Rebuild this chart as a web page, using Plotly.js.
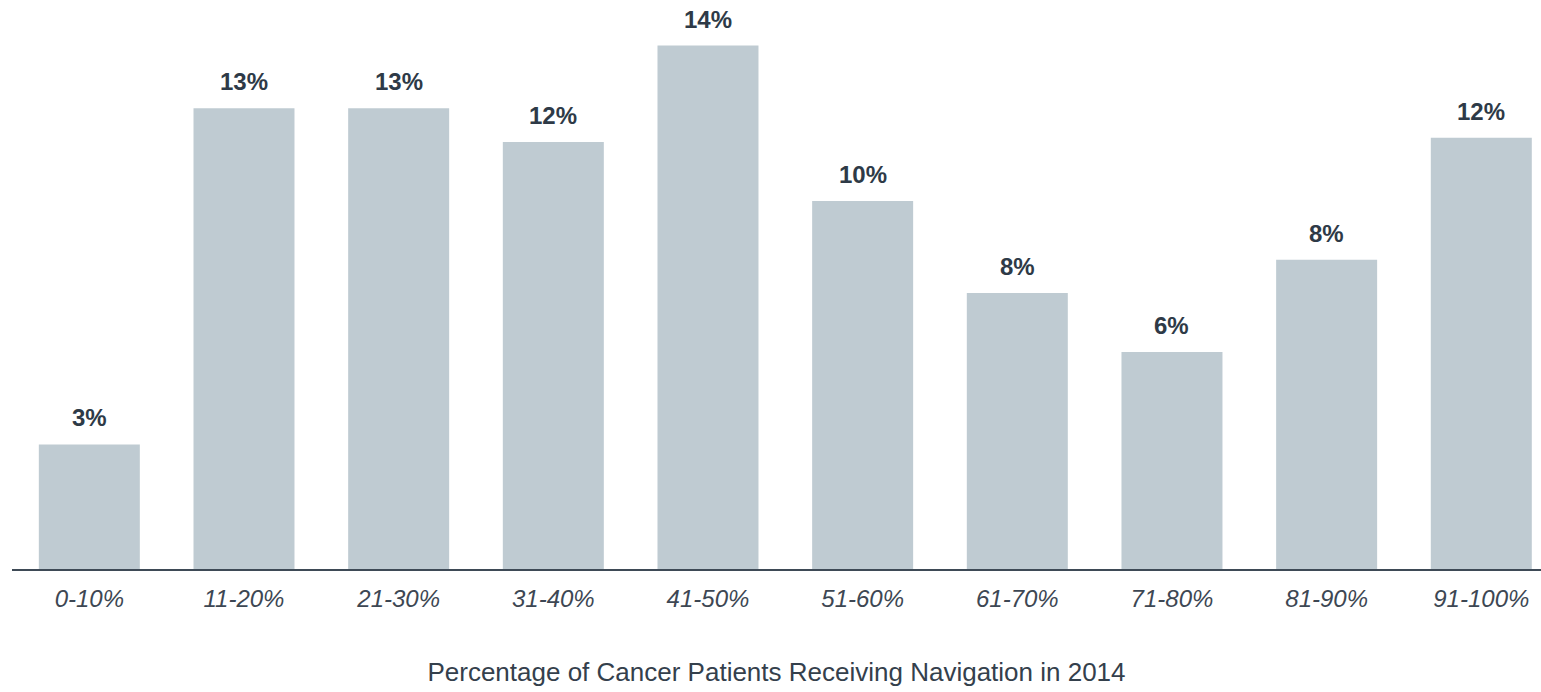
<!DOCTYPE html>
<html>
<head>
<meta charset="utf-8">
<script src="https://cdn.plot.ly/plotly-3.0.1.min.js"></script>
<style>html,body{margin:0;padding:0;background:#fff;}#chart{width:1541px;height:692px;}</style>
</head>
<body>
<div id="chart"></div>
<script>
// Categories (x axis tick labels)
const categories = ["0-10%", "11-20%", "21-30%", "31-40%", "41-50%", "51-60%", "61-70%", "71-80%", "81-90%", "91-100%"];
// Bar heights (percent of programs)
const values = [3.46, 12.80, 12.80, 11.86, 14.54, 10.22, 7.67, 6.03, 8.59, 11.98];
// Printed value labels above bars
const valueLabels = ["3%", "13%", "13%", "12%", "14%", "10%", "8%", "6%", "8%", "12%"];
const xTitle = "Percentage of Cancer Patients Receiving Navigation in 2014";

const FONT = "Liberation Sans, Arial, Helvetica, sans-serif";

const trace = {
  type: "bar",
  x: categories,
  y: values,
  marker: { color: "#bfcbd2", line: { width: 0 } },
  hoverinfo: "x+y"
};

const annotations = categories.map((c, i) => ({
  x: c, y: values[i], xref: "x", yref: "y",
  text: "<b>" + valueLabels[i] + "</b>",
  showarrow: false, yanchor: "bottom", yshift: 11,
  font: { family: FONT, size: 24, color: "#2e3a47" }
}));

const layout = {
  width: 1541, height: 692,
  margin: { l: 12, r: 0, t: 20, b: 123, pad: 0 },
  paper_bgcolor: "#ffffff", plot_bgcolor: "#ffffff",
  bargap: 0.347,
  showlegend: false,
  xaxis: {
    type: "category",
    range: [-0.5, 9.386],
    showline: true, linecolor: "#3e4a56", linewidth: 2,
    showgrid: false, zeroline: false, ticks: "",
    ticklabelstandoff: 7,
    tickfont: { family: FONT, size: 24, color: "#3d4753", style: "italic" },
    title: { text: xTitle, standoff: 52, font: { family: FONT, size: 26, color: "#34404c" } },
    automargin: false, fixedrange: true
  },
  yaxis: {
    range: [0, 15.25],
    visible: false, showgrid: false, zeroline: false, fixedrange: true
  },
  annotations: annotations
};

Plotly.newPlot("chart", [trace], layout, { displayModeBar: false, staticPlot: true });
</script>
</body>
</html>
